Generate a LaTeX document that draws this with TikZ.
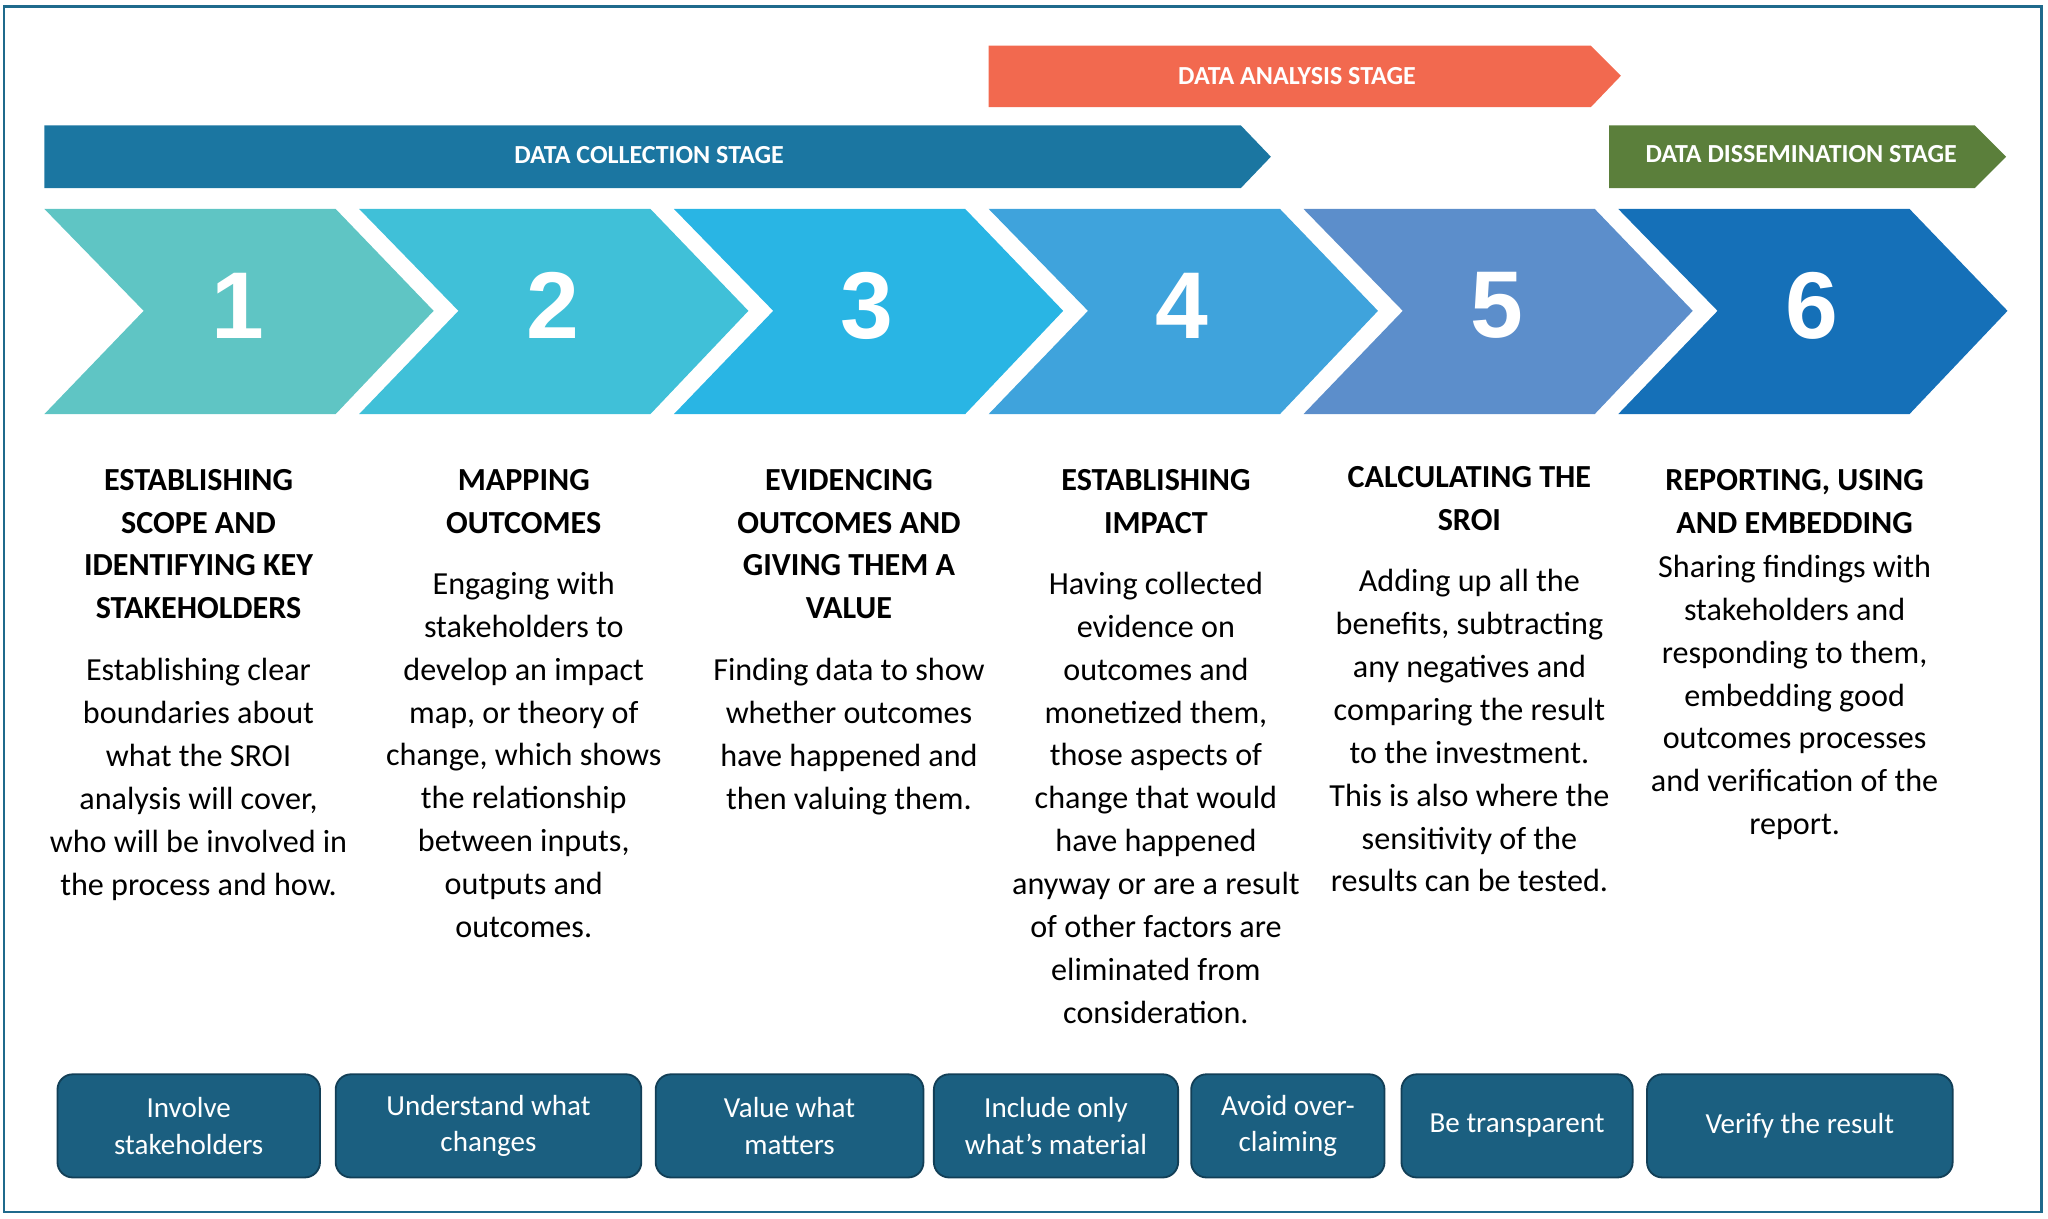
\documentclass[tikz,border=0pt]{standalone}
\usepackage{fontspec}
\setmainfont{Carlito}
\newfontfamily\numfont{Liberation Sans}
\definecolor{framecol}{HTML}{1F6A8C}
\definecolor{analysiscol}{HTML}{F2694F}
\definecolor{collectcol}{HTML}{1B76A1}
\definecolor{dissemcol}{HTML}{5B7F3B}
\definecolor{boxcol}{HTML}{1B5F80}
\definecolor{boxline}{HTML}{123F57}
\definecolor{cA}{HTML}{5FC5C4}
\definecolor{cB}{HTML}{40C0D8}
\definecolor{cC}{HTML}{29B5E4}
\definecolor{cD}{HTML}{3FA3DC}
\definecolor{cE}{HTML}{5C8ECB}
\definecolor{cF}{HTML}{1570B8}
\tikzset{
  stage/.style={font=\fontsize{17}{20}\selectfont\bfseries, text=white},
  head/.style={font=\fontsize{21}{28}\selectfont\bfseries, align=center, anchor=north},
  body/.style={font=\fontsize{21}{28}\selectfont, align=center, anchor=north},
  principle/.style={draw=boxline, line width=1.2pt, fill=boxcol, rounded corners=10pt, text=white,
    font=\fontsize{19}{24}\selectfont, align=center}
}
\begin{document}
\begin{tikzpicture}[x=0.03cm, y=-0.03cm]
    \useasboundingbox (0,0) rectangle (1568,933);
    % Frame
    \draw[framecol, line width=1.5pt] (3,5) rectangle (1563,928);

    % Stage arrows
    \fill[analysiscol] (757,35) -- (1218,35) -- (1241,58) -- (1218,82) -- (757,82) -- cycle;
    \node[stage] (analysis) at (993,58) {DATA ANALYSIS STAGE};
    \fill[collectcol] (34,96) -- (950,96) -- (973,120) -- (950,144) -- (34,144) -- cycle;
    \node[stage] (collection) at (497,119) {DATA COLLECTION STAGE};
    \fill[dissemcol] (1232,96) -- (1512,96) -- (1536,120) -- (1512,144) -- (1232,144) -- cycle;
    \node[stage] (dissemination) at (1379,118) {DATA DISSEMINATION STAGE};

    % Chevrons
    \foreach \i/\col in {0/cA,1/cB,2/cC,3/cD,4/cE,5/cF} {
        \fill[\col] ({34+241*\i},160) -- ({257+241*\i},160) -- ({332+241*\i},238)
            -- ({257+241*\i},317) -- ({34+241*\i},317) -- ({110+241*\i},238) -- cycle;
        \pgfmathtruncatemacro{\n}{\i+1}
        \node[text=white, font=\numfont\fontsize{62}{62}\selectfont\bfseries] (num\n) at ({182+241*\i},234) {\n};
    }

    % Step 1
    \node[head] (head1) at (152,355) {ESTABLISHING\\SCOPE AND\\IDENTIFYING KEY\\STAKEHOLDERS};
    \node[body] (body1) at (152,500) {Establishing clear\\boundaries about\\what the SROI\\analysis will cover,\\who will be involved in\\the process and how.};
    % Step 2
    \node[head] (head2) at (401,355) {MAPPING\\OUTCOMES};
    \node[body] (body2) at (401,434) {Engaging with\\stakeholders to\\develop an impact\\map, or theory of\\change, which shows\\the relationship\\between inputs,\\outputs and\\outcomes.};
    % Step 3
    \node[head] (head3) at (650,355) {EVIDENCING\\OUTCOMES AND\\GIVING THEM A\\VALUE};
    \node[body] (body3) at (650,500) {Finding data to show\\whether outcomes\\have happened and\\then valuing them.};
    % Step 4
    \node[head] (head4) at (885,355) {ESTABLISHING\\IMPACT};
    \node[body] (body4) at (885,434) {Having collected\\evidence on\\outcomes and\\monetized them,\\those aspects of\\change that would\\have happened\\anyway or are a result\\of other factors are\\eliminated from\\consideration.};
    % Step 5
    \node[head] (head5) at (1125,353) {CALCULATING THE\\SROI};
    \node[body] (body5) at (1125,432) {Adding up all the\\benefits, subtracting\\any negatives and\\comparing the result\\to the investment.\\This is also where the\\sensitivity of the\\results can be tested.};
    % Step 6
    \node[head] (head6) at (1374,355) {REPORTING, USING\\AND EMBEDDING};
    \node[body] (body6) at (1374,421) {Sharing findings with\\stakeholders and\\responding to them,\\embedding good\\outcomes processes\\and verification of the\\report.};

    % Principles
    \foreach \x/\w/\name/\txt in {44/201/pa/{Involve\\stakeholders}, 257/234/pb/{Understand what\\changes},
        502/205/pc/{Value what\\matters}, 715/187/pd/{Include only\\what's material}, 912/148/pe/{Avoid over-\\claiming},
        1073/177/pf/{Be transparent}, 1261/234/pg/{Verify the result}} {
        \node[principle, minimum width={\w*0.03cm}, minimum height={79*0.03cm}] (\name) at ({\x+\w/2},862) {\txt};
    }
\end{tikzpicture}
\end{document}
